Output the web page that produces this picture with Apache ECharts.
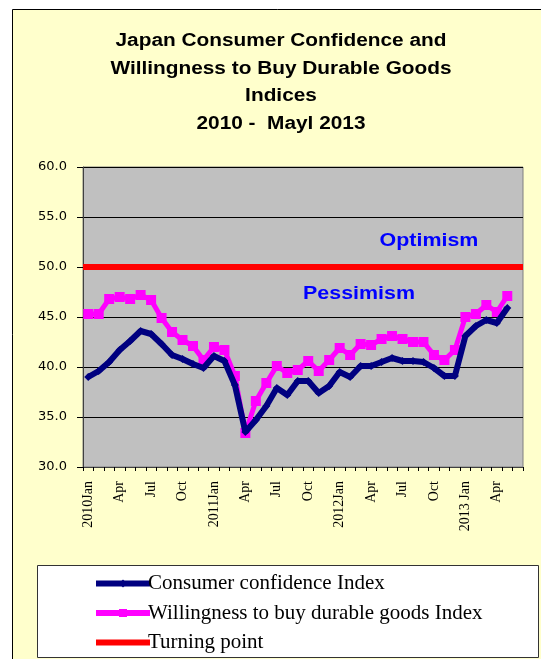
<!DOCTYPE html>
<html>
<head>
<meta charset="utf-8">
<script src="https://cdn.jsdelivr.net/npm/echarts@6/dist/echarts.min.js"></script>
<style>
html,body{margin:0;padding:0;background:#ffffff;}
#chart{width:541px;height:659px;}
</style>
</head>
<body>
<div id="chart"></div>
<script>
// Tick labels / categories (Jan 2010 .. Jun 2013)
const categories = [
  "2010Jan","Feb","Mar","Apr","May","Jun","Jul","Aug","Sep","Oct","Nov","Dec",
  "2011Jan","Feb","Mar","Apr","May","Jun","Jul","Aug","Sep","Oct","Nov","Dec",
  "2012Jan","Feb","Mar","Apr","May","Jun","Jul","Aug","Sep","Oct","Nov","Dec",
  "2013 Jan","Feb","Mar","Apr","May","Jun"
];
// Consumer confidence Index
const consumerConfidence = [
  39.0, 39.6, 40.5, 41.7, 42.6, 43.6, 43.3, 42.3, 41.2, 40.8, 40.3, 39.9,
  41.1, 40.6, 38.2, 33.5, 34.7, 36.1, 37.9, 37.2, 38.6, 38.6, 37.4, 38.1,
  39.5, 39.0, 40.1, 40.1, 40.5, 40.9, 40.6, 40.6, 40.5, 39.9, 39.1, 39.1,
  43.1, 44.1, 44.7, 44.4, 45.9
];
// Willingness to buy durable goods Index
const durableGoods = [
  45.3, 45.3, 46.8, 47.0, 46.8, 47.2, 46.7, 44.9, 43.5, 42.7, 42.1, 40.7,
  42.0, 41.7, 39.1, 33.4, 36.6, 38.4, 40.1, 39.4, 39.7, 40.6, 39.6, 40.7,
  41.9, 41.2, 42.3, 42.2, 42.8, 43.1, 42.8, 42.5, 42.5, 41.2, 40.7, 41.7,
  45.0, 45.3, 46.2, 45.5, 47.1
];
const turningPoint = 50;
const yTicks = [30, 35, 40, 45, 50, 55, 60];
const titleLines = ['Japan Consumer Confidence and', 'Willingness to Buy Durable Goods', 'Indices', '2010 -  Mayl 2013'];

const chart = echarts.init(document.getElementById('chart'), null, {renderer:'canvas'});
const titleGraphics = titleLines.map((t, i) => ({
  type:'text', z:10, x:281, y:41 + i*27.7, scaleX:1.19,
  style:{x:0, y:0, text:t, textAlign:'center', textVerticalAlign:'middle', fill:'#000000',
    font:'bold 17.5px "Liberation Sans", Arial'}
}));
const option = {
  backgroundColor: '#ffffff',
  animation: false,
  graphic: [
    {type:'rect', z:-10, shape:{x:12.5, y:9.5, width:600, height:700},
     style:{fill:'#FFFFCC', stroke:'#000000', lineWidth:1}},
    ...titleGraphics,
    {type:'text', z:10, x:429, y:241, scaleX:1.19, style:{x:0, y:0, text:'Optimism', textAlign:'center', textVerticalAlign:'middle',
      fill:'#0000FF', font:'bold 18px "Liberation Sans", Arial'}},
    {type:'text', z:10, x:359, y:294, scaleX:1.19, style:{x:0, y:0, text:'Pessimism', textAlign:'center', textVerticalAlign:'middle',
      fill:'#0000FF', font:'bold 18px "Liberation Sans", Arial'}},
    {type:'rect', z:-5, shape:{x:37.5, y:565.5, width:501, height:92},
     style:{fill:'#FFFFFF', stroke:'#333333', lineWidth:1}}
  ],
  legend: {
    orient:'vertical', left:93, top:573, padding:0, itemWidth:54, itemHeight:10, itemGap:8.5,
    lineStyle:{width:6},
    textStyle:{fontFamily:'"Liberation Serif", "Times New Roman"', fontSize:21, lineHeight:20, color:'#000000', padding:[0,0,0,-7]},
    data:[
      {name:'Consumer confidence Index'},
      {name:'Willingness to buy durable goods Index'},
      {name:'Turning point', itemStyle:{opacity:0}}
    ]
  },
  grid: {left:83, top:167, width:440, height:300, show:true, backgroundColor:'#C0C0C0', borderColor:'#808080', borderWidth:1},
  xAxis: {
    type:'category', data:categories, boundaryGap:true,
    axisLine:{lineStyle:{color:'#404040', width:1}},
    axisTick:{show:true, interval:0, length:4, lineStyle:{color:'#000000'}},
    axisLabel:{interval:2, rotate:90, fontFamily:'"Liberation Serif", "Times New Roman"', fontSize:14, color:'#000000', margin:14}
  },
  yAxis: {
    type:'value', min:yTicks[0], max:yTicks[yTicks.length-1], interval:5,
    axisLine:{show:true, lineStyle:{color:'#404040'}},
    axisTick:{show:true, length:6, lineStyle:{color:'#000000'}},
    axisLabel:{formatter:v=>v.toFixed(1), fontFamily:'"DejaVu Sans", Arial', fontSize:13, color:'#000000', margin:16},
    splitLine:{show:true, lineStyle:{color:'#000000', width:1}}
  },
  series: [
    {name:'Turning point', type:'line', data:[], symbol:'none',
     lineStyle:{color:'#FF0000', width:6}, itemStyle:{color:'#FF0000'},
     markLine:{silent:true, symbol:'none', label:{show:false},
       lineStyle:{color:'#FF0000', width:6, type:'solid'}, data:[{yAxis:turningPoint}]}, z:3},
    {name:'Willingness to buy durable goods Index', type:'line', data:durableGoods,
     symbol:'rect', symbolSize:10, showAllSymbol:true,
     lineStyle:{color:'#FF00FF', width:5}, itemStyle:{color:'#FF00FF'}, z:4},
    {name:'Consumer confidence Index', type:'line', data:consumerConfidence,
     symbol:'diamond', symbolSize:8, showAllSymbol:true,
     lineStyle:{color:'#000080', width:6}, itemStyle:{color:'#000080'}, z:5}
  ]
};
chart.setOption(option);
</script>
</body>
</html>
